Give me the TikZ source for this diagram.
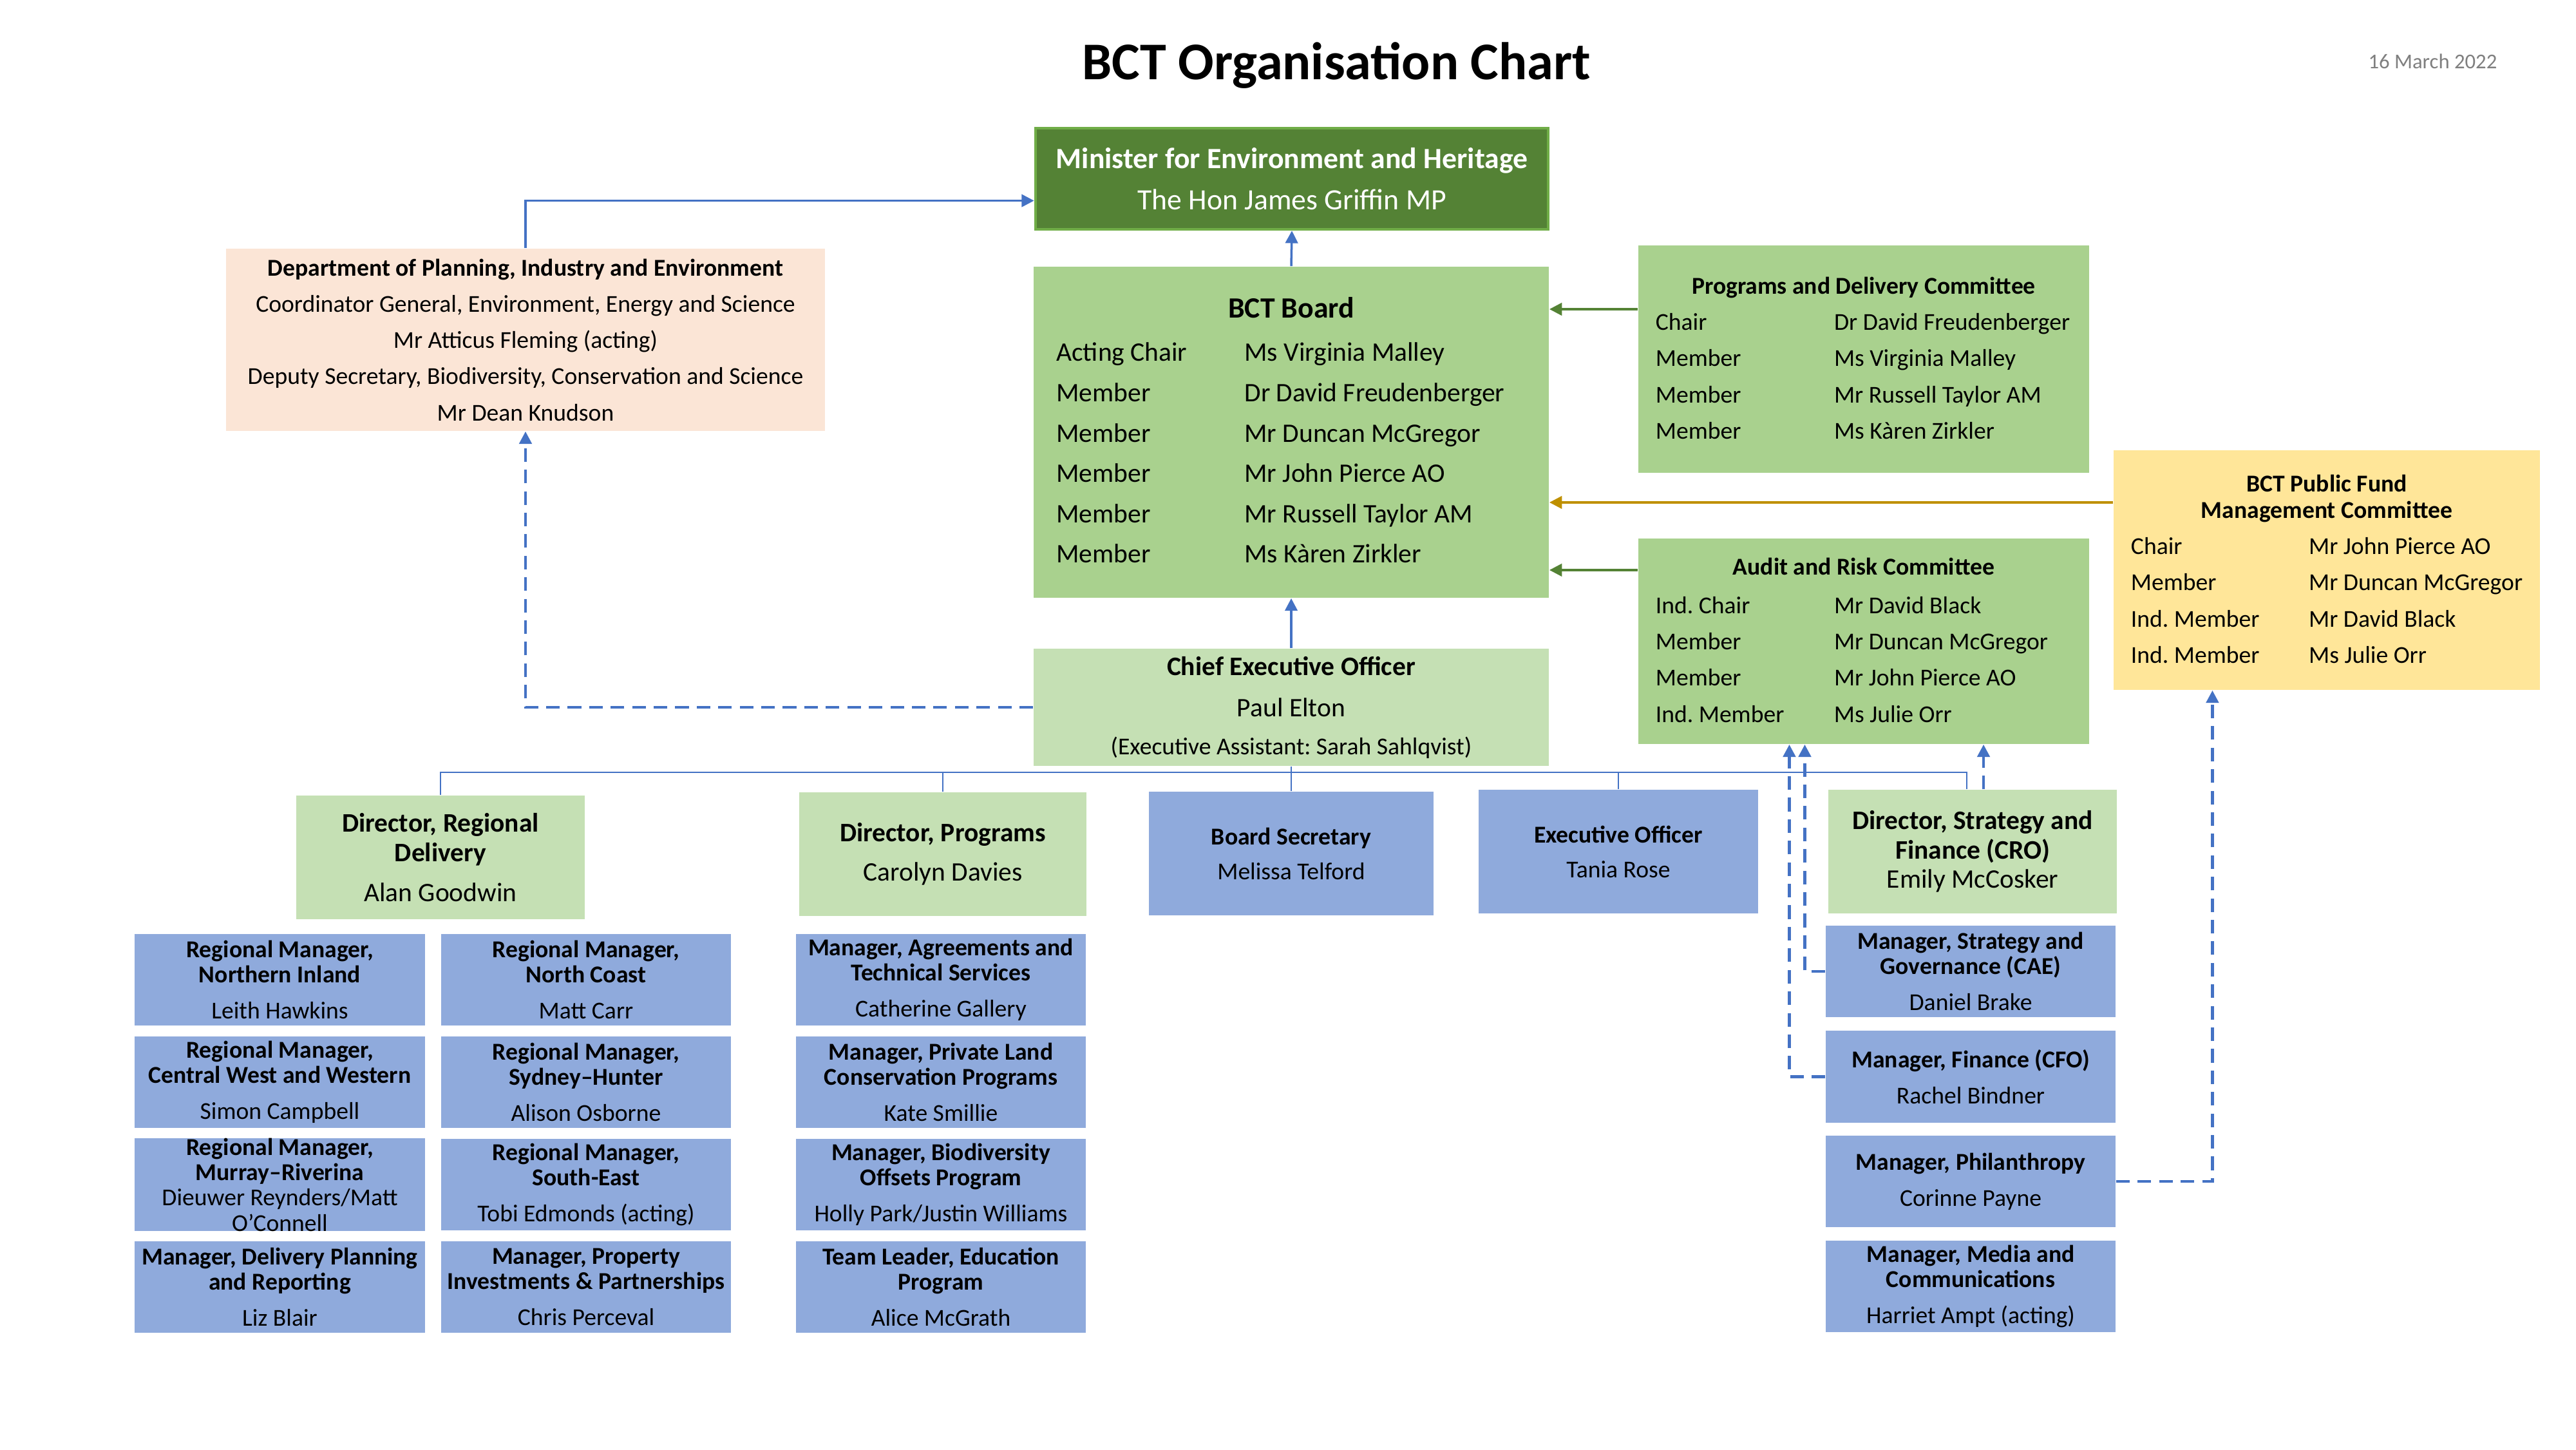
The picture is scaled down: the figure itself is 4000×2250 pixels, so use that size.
\documentclass[tikz,border=0pt]{standalone}
\usepackage{fontspec}
\setmainfont{Carlito}
\usetikzlibrary{arrows.meta}
\frenchspacing

\definecolor{ministergreen}{HTML}{548235}
\definecolor{ministeredge}{HTML}{70AD47}
\definecolor{boardgreen}{HTML}{A9D18E}
\definecolor{palegreen}{HTML}{C5E0B4}
\definecolor{staffblue}{HTML}{8FAADC}
\definecolor{deptpeach}{HTML}{FBE5D6}
\definecolor{fundyellow}{HTML}{FFE699}
\definecolor{linkblue}{HTML}{4472C4}
\definecolor{fundgold}{HTML}{BF9000}
\definecolor{dategrey}{HTML}{7F7F7F}

\newcommand\fsUnit{\fontsize{10.7}{11.2}\selectfont}
\newcommand\fsList{\fontsize{10.7}{16}\selectfont}
\newcommand\fsBoard{\fontsize{11.8}{17.8}\selectfont}
\newcommand\fsDirector{\fontsize{11.8}{13}\selectfont}
\newcommand\fsMinister{\fontsize{13}{18.2}\selectfont}

\begin{document}
\begin{tikzpicture}[x=0.01cm,y=-0.01cm,>={Triangle[width=5.5pt,length=5.5pt]}]
    \tikzstyle{box}=[rectangle,inner sep=0pt,align=center]
    \tikzstyle{listbox}=[rectangle,inner sep=0pt]
    \tikzstyle{unitbox}=[box,fill=staffblue,font=\fsUnit\bfseries,minimum width=4.5cm,minimum height=1.42cm]
    \tikzstyle{dirbox}=[box,fill=palegreen,font=\fsDirector\bfseries,minimum height=1.92cm]
    \tikzstyle{uplink}=[draw=linkblue,line width=1pt,->]
    \tikzstyle{dashlink}=[uplink,line width=1.2pt,dash pattern=on 6pt off 3.5pt]
    \tikzstyle{busline}=[draw=linkblue,line width=0.75pt]

    \useasboundingbox (0,0) rectangle (4000,2250);

    % Heading and date
    \node[font=\fontsize{23.4}{28}\selectfont\bfseries] (title) at (2075,102) {BCT Organisation Chart};
    \node[font=\fontsize{9.3}{11}\selectfont,text=dategrey,anchor=east,inner sep=0pt] (date) at (3878,95) {16 March 2022};

    % Minister and department
    \node[box,fill=ministergreen,draw=ministeredge,line width=1.2pt,text=white,font=\fsMinister,
          minimum width=7.96cm,minimum height=1.57cm] (minister) at (2006,277.5)
        {\textbf{Minister for Environment and Heritage}\\The Hon James Griffin MP};
    \node[box,fill=deptpeach,font=\fsList,minimum width=9.3cm,minimum height=2.83cm] (dept) at (816,527.5)
        {\textbf{Department of Planning, Industry and Environment}\\
         Coordinator General, Environment, Energy and Science\\
         Mr Atticus Fleming (acting)\\
         Deputy Secretary, Biodiversity, Conservation and Science\\
         Mr Dean Knudson};

    % Board and its committees
    \node[listbox,fill=boardgreen,minimum width=8cm,minimum height=5.14cm] (board) at (2005,671) {\fsBoard
        \begin{tabular}{@{}p{2.92cm}@{}p{4.37cm}@{}}
        \multicolumn{2}{c}{\fontsize{13}{17.8}\selectfont\bfseries BCT Board}\\[1.5pt]
        Acting Chair & Ms Virginia Malley\\
        Member & Dr David Freudenberger\\
        Member & Mr Duncan McGregor\\
        Member & Mr John Pierce AO\\
        Member & Mr Russell Taylor AM\\
        Member & Ms Kàren Zirkler
        \end{tabular}};
    \node[listbox,fill=boardgreen,minimum width=7cm,minimum height=3.53cm] (pdc) at (2894,557.5) {\fsList
        \begin{tabular}{@{}p{2.77cm}@{}p{3.69cm}@{}}
        \multicolumn{2}{c}{\bfseries Programs and Delivery Committee}\\
        Chair & Dr David Freudenberger\\
        Member & Ms Virginia Malley\\
        Member & Mr Russell Taylor AM\\
        Member & Ms Kàren Zirkler
        \end{tabular}};
    \node[listbox,fill=boardgreen,minimum width=7cm,minimum height=3.19cm] (arc) at (2894,995.5) {\fsList
        \begin{tabular}{@{}p{2.77cm}@{}p{3.69cm}@{}}
        \multicolumn{2}{c}{\bfseries Audit and Risk Committee}\\[1pt]
        Ind. Chair & Mr David Black\\
        Member & Mr Duncan McGregor\\
        Member & Mr John Pierce AO\\
        Ind. Member & Ms Julie Orr
        \end{tabular}};
    \node[listbox,fill=fundyellow,minimum width=6.62cm,minimum height=3.72cm] (pfmc) at (3613,885) {\fsList
        \begin{tabular}{@{}p{2.76cm}@{}l@{}}
        \multicolumn{2}{c}{\bfseries BCT Public Fund}\\[-4.3pt]
        \multicolumn{2}{c}{\bfseries Management Committee}\\
        Chair & Mr John Pierce AO\\
        Member & Mr Duncan McGregor\\
        Ind. Member & Mr David Black\\
        Ind. Member & Ms Julie Orr
        \end{tabular}};

    % Chief Executive Officer
    \node[box,fill=palegreen,font=\fontsize{11.8}{18.2}\selectfont,minimum width=8cm,minimum height=1.82cm] (ceo) at (2005,1098)
        {\textbf{Chief Executive Officer}\\Paul Elton\\[-1.4pt]\fontsize{10.7}{16}\selectfont(Executive Assistant: Sarah Sahlqvist)};

    % Directors and CEO office
    \node[dirbox,minimum width=4.48cm] (dirreg) at (684,1331) {Director, Regional\\Delivery\\[4.6pt]\mdseries Alan Goodwin};
    \node[dirbox,minimum width=4.46cm] (dirprog) at (1464,1326) {Director, Programs\\[4.4pt]\mdseries Carolyn Davies};
    \node[dirbox,fill=staffblue,font=\fsUnit\bfseries,minimum width=4.42cm] (boardsec) at (2005,1325) {Board Secretary\\[4.2pt]\mdseries Melissa Telford};
    \node[dirbox,fill=staffblue,font=\fsUnit\bfseries,minimum width=4.33cm] (execoff) at (2513,1322) {Executive Officer\\[4.2pt]\mdseries Tania Rose};
    \node[dirbox,minimum width=4.47cm] (dirstrat) at (3063,1322) {Director, Strategy and\\Finance (CRO)\\\mdseries Emily McCosker};

    % Regional Delivery teams
    \foreach \name/\x/\y/\role/\person in {
        rni/434.5/1521/{Regional Manager,\\Northern Inland}/{Leith Hawkins},
        rcw/434.5/1680/{Regional Manager,\\Central West and Western}/{Simon Campbell},
        mdp/434.5/1998/{Manager, Delivery Planning\\and Reporting}/{Liz Blair},
        rnc/910/1521/{Regional Manager,\\North Coast}/{Matt Carr},
        rsh/910/1680/{Regional Manager,\\Sydney--Hunter}/{Alison Osborne},
        rse/910/1839/{Regional Manager,\\South-East}/{Tobi Edmonds (acting)},
        mpi/910/1998/{Manager, Property\\Investments \& Partnerships}/{Chris Perceval}}
        \node[unitbox] (\name) at (\x,\y) {\role\\[4.7pt]\mdseries\person};
    \node[unitbox] (rmr) at (434.5,1839) {Regional Manager,\\Murray--Riverina\\\mdseries Dieuwer Reynders/Matt\\\mdseries O’Connell};

    % Programs teams
    \foreach \name/\y/\role/\person in {
        mat/1521/{Manager, Agreements and\\Technical Services}/{Catherine Gallery},
        mpl/1680/{Manager, Private Land\\Conservation Programs}/{Kate Smillie},
        mbo/1839/{Manager, Biodiversity\\Offsets Program}/{Holly Park/Justin Williams},
        tle/1998/{Team Leader, Education\\Program}/{Alice McGrath}}
        \node[unitbox] (\name) at (1461,\y) {\role\\[4.7pt]\mdseries\person};

    % Strategy and Finance teams
    \foreach \name/\y/\role/\person in {
        msg/1508/{Manager, Strategy and\\Governance (CAE)}/{Daniel Brake},
        mfi/1671.5/{Manager, Finance (CFO)}/{Rachel Bindner},
        mph/1834/{Manager, Philanthropy}/{Corinne Payne},
        mmc/1997/{Manager, Media and\\Communications}/{Harriet Ampt (acting)}}
        \node[unitbox] (\name) at (3060,\y) {\role\\[4.7pt]\mdseries\person};

    % Reporting lines at the top
    \draw[uplink] (dept.north) |- ([yshift=-0.34cm]minister.west);
    \draw[uplink] (board.north) -- (minister.south);
    \draw[uplink] (ceo.north) -- (board.south);
    \draw[dashlink] (ceo.west) -| (dept.south);

    % Committees report to the Board
    \path ([yshift=0.775cm]pdc.west) coordinate (pdcin);
    \path ([yshift=1.105cm]arc.west) coordinate (arcin);
    \path ([yshift=1.05cm]pfmc.west) coordinate (fundin);
    \draw[uplink,draw=ministergreen] (pdcin) -- (pdcin -| board.east);
    \draw[uplink,draw=ministergreen] (arcin) -- (arcin -| board.east);
    \draw[uplink,draw=fundgold] (fundin) -- (fundin -| board.east);

    % CEO to directors
    \coordinate (bus) at (2005,1199);
    \draw[busline] (ceo.south) -- (ceo.south |- boardsec.north);
    \draw[busline] (dirreg.north) |- (bus) -| ([xshift=-0.09cm]dirstrat.north);
    \foreach \n in {dirprog,execoff}
        \draw[busline] (\n.north) -- (\n.north |- bus);

    % Dotted reporting lines
    \path ([xshift=0.17cm]dirstrat.north) coordinate (stratup);
    \draw[dashlink] (stratup) -- (stratup |- arc.south);
    \draw[dashlink] (msg.west) -| ([xshift=-0.915cm]arc.south);
    \draw[dashlink] (mfi.west) -| ([xshift=-1.155cm]arc.south);
    \draw[dashlink] (mph.east) -| ([xshift=-1.775cm]pfmc.south);
\end{tikzpicture}
\end{document}
